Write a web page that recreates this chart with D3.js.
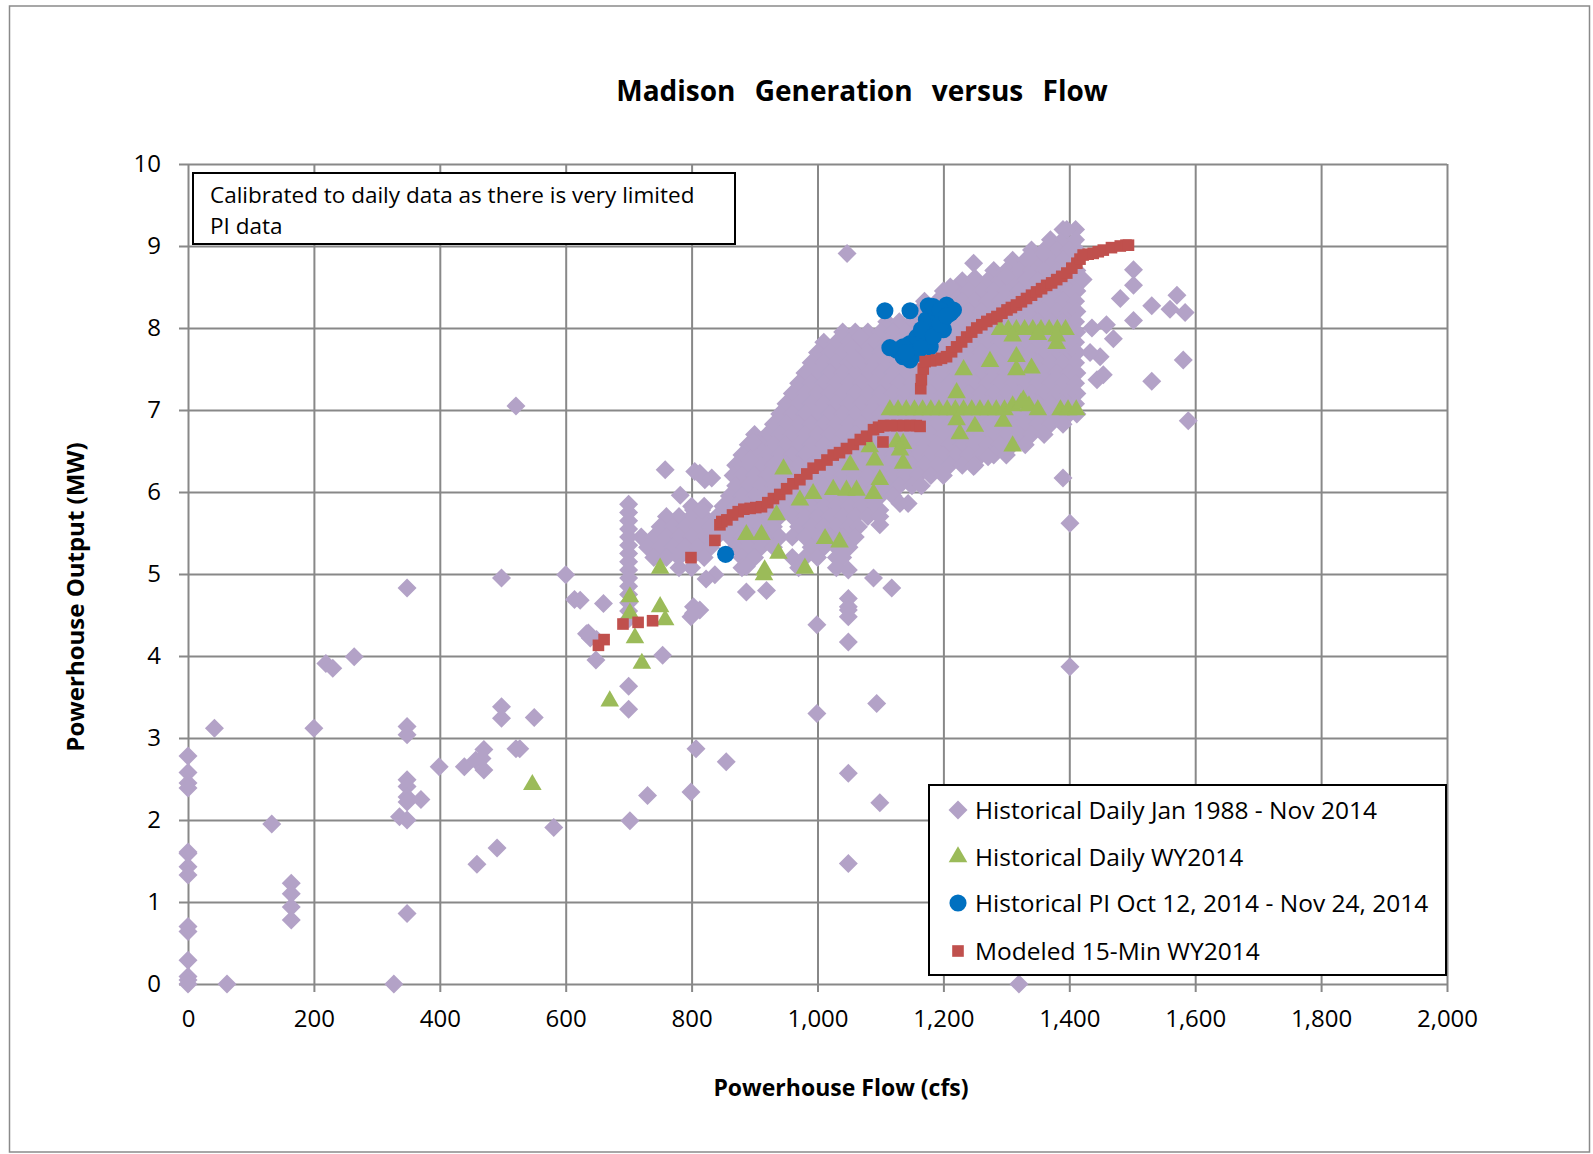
<!DOCTYPE html>
<html>
<head>
<meta charset="utf-8">
<title>Madison Generation versus Flow</title>
<script src="https://cdn.jsdelivr.net/npm/d3@7"></script>
<style>
  body { margin: 0; background: #fff; }
  text { font-family: "Open Sans", sans-serif; fill: #000; }
  .title { font-weight: bold; }
  .label { font-weight: bold; }
</style>
</head>
<body>
<svg id="chart" width="1593" height="1154"></svg>
<script>
// ---- data ----
var flowTicks = [0, 200, 400, 600, 800, 1000, 1200, 1400, 1600, 1800, 2000];
var outputTicks = [0, 1, 2, 3, 4, 5, 6, 7, 8, 9, 10];

var seriesNames = ['Historical Daily Jan 1988 - Nov 2014', 'Historical Daily WY2014',
                   'Historical PI Oct 12, 2014 - Nov 24, 2014', 'Modeled 15-Min WY2014'];
var seriesColors = ['#b3a2c7', '#9bbb59', '#0070c0', '#c0504d'];

// historical daily: scattered points [flow, MW]
var dailyScatter = [
  [0,2.78],[0,2.58],[0,2.45],[0,2.39],[0,1.61],[0,1.59],[0,1.43],[0,1.33],[0,0.70],[0,0.64],[0,0.29],[0,0.09],[0,0.05],[0,0],
  [42,3.12],[62,0],[133,1.95],[164,1.23],[164,1.10],[164,0.94],[164,0.78],[200,3.12],[219,3.91],[230,3.85],[264,3.99],
  [327,0],[348,4.83],[348,3.14],[348,3.04],[348,2.49],[348,2.41],[348,2.28],[348,2.22],[336,2.04],[348,2.0],[348,0.86],
  [370,2.25],[399,2.65],[439,2.65],[457,2.73],[470,2.86],[470,2.61],[467,2.75],[498,4.95],[498,3.38],[498,3.24],
  [459,1.46],[491,1.66],[521,2.87],[527,2.87],[550,3.25],[581,1.91],[600,4.99],[614,4.69],[636,4.28],[639,4.22],
  [648,3.95],[521,7.05],[633,4.27],[649,4.20],[623,4.68],[660,4.64],[700,3.63],[700,3.35],[754,4.01],[702,1.99],
  [730,2.30],[807,2.87],[799,2.34],[855,2.71],[1049,5.05],[1089,4.95],[1118,4.83],[999,4.38],[1049,4.70],[1049,4.60],
  [1049,4.56],[1049,4.48],[1049,4.17],[1401,3.87],[1094,3.42],[999,3.30],[1049,2.57],[1099,2.21],[1049,1.47],[1320,0],
  [1390,6.17],[1401,5.62],[887,4.78],[919,4.80],[803,4.52],[803,4.60],[813,4.56],[799,4.48],[837,4.99],[887,5.09],
  [823,4.94],[1099,5.60],[1099,5.78],[1099,5.70],[1131,5.86],[1144,5.86],[1248,6.31],[1271,6.43],[898,6.61],[893,6.39],
  [758,6.27],[805,6.25],[821,6.15],[813,6.23],[832,6.17],[782,5.96],[803,5.78],[816,5.78],[1047,8.91],[1068,7.89],
  [1055,7.75],[1060,7.62],
  [1396,9.2],[1422,8.59],[1444,7.37],[1454,7.43],[1449,7.65],[1459,8.04],[1470,7.87],[1481,8.36],[1502,8.71],[1502,8.52],
  [1502,8.09],[1531,8.27],[1531,7.35],[1560,8.23],[1571,8.40],[1584,8.19],[1581,7.61],[1589,6.87],[1436,8.0],[1433,7.7],
  [1248,8.79],[1250,8.61],[1300,8.63],[1338,8.87],[1359,8.91],[1211,8.50]
];

// historical daily: the stack of days at 700 cfs
var dailyAt700 = [4.45, 4.55, 4.65, 4.75, 4.85, 4.95, 5.05, 5.15, 5.25, 5.35, 5.45, 5.55, 5.65, 5.75, 5.85];

// historical daily: dense cloud, one row of flows per MW level
var dailyCloud = [
  [9.20, [1390, 1410]],
  [9.075, [1370, 1390, 1410]],
  [8.95, [1340, 1360, 1380, 1400, 1412]],
  [8.825, [1310, 1330, 1350, 1370, 1390, 1410]],
  [8.70, [1280, 1300, 1320, 1340, 1360, 1380, 1400, 1412]],
  [8.575, [1230, 1250, 1270, 1290, 1310, 1330, 1350, 1370, 1390, 1410]],
  [8.45, [1200, 1220, 1240, 1260, 1280, 1300, 1320, 1340, 1360, 1380, 1400, 1412]],
  [8.325, [1170, 1190, 1210, 1230, 1250, 1270, 1290, 1310, 1330, 1350, 1370, 1390, 1410]],
  [8.20, [1160, 1180, 1200, 1220, 1240, 1260, 1280, 1300, 1320, 1340, 1360, 1380, 1400, 1412]],
  [8.075, [1110, 1130, 1150, 1170, 1190, 1210, 1230, 1250, 1270, 1290, 1310, 1330, 1350, 1370, 1390, 1410]],
  [7.95, [1040, 1060, 1080, 1100, 1120, 1140, 1160, 1180, 1200, 1220, 1240, 1260, 1280, 1300, 1320, 1340, 1360, 1380, 1400, 1412]],
  [7.825, [1010, 1030, 1050, 1070, 1090, 1110, 1130, 1150, 1170, 1190, 1210, 1230, 1250, 1270, 1290, 1310, 1330, 1350, 1370, 1390, 1410]],
  [7.70, [1000, 1020, 1040, 1060, 1080, 1100, 1120, 1140, 1160, 1180, 1200, 1220, 1240, 1260, 1280, 1300, 1320, 1340, 1360, 1380, 1400, 1412]],
  [7.575, [990, 1010, 1030, 1050, 1070, 1090, 1110, 1130, 1150, 1170, 1190, 1210, 1230, 1250, 1270, 1290, 1310, 1330, 1350, 1370, 1390, 1410]],
  [7.45, [980, 1000, 1020, 1040, 1060, 1080, 1100, 1120, 1140, 1160, 1180, 1200, 1220, 1240, 1260, 1280, 1300, 1320, 1340, 1360, 1380, 1400, 1412]],
  [7.325, [970, 990, 1010, 1030, 1050, 1070, 1090, 1110, 1130, 1150, 1170, 1190, 1210, 1230, 1250, 1270, 1290, 1310, 1330, 1350, 1370, 1390, 1410]],
  [7.20, [960, 980, 1000, 1020, 1040, 1060, 1080, 1100, 1120, 1140, 1160, 1180, 1200, 1220, 1240, 1260, 1280, 1300, 1320, 1340, 1360, 1380, 1400, 1412]],
  [7.075, [950, 970, 990, 1010, 1030, 1050, 1070, 1090, 1110, 1130, 1150, 1170, 1190, 1210, 1230, 1250, 1270, 1290, 1310, 1330, 1350, 1370, 1390, 1410]],
  [6.95, [940, 960, 980, 1000, 1020, 1040, 1060, 1080, 1100, 1120, 1140, 1160, 1180, 1200, 1220, 1240, 1260, 1280, 1300, 1320, 1340, 1360, 1380, 1400, 1412]],
  [6.825, [930, 950, 970, 990, 1010, 1030, 1050, 1070, 1090, 1110, 1130, 1150, 1170, 1190, 1210, 1230, 1250, 1270, 1290, 1310, 1330, 1350, 1370, 1390]],
  [6.70, [900, 920, 940, 960, 980, 1000, 1020, 1040, 1060, 1080, 1100, 1120, 1140, 1160, 1180, 1200, 1220, 1240, 1260, 1280, 1300, 1320, 1340, 1360]],
  [6.575, [890, 910, 930, 950, 970, 990, 1010, 1030, 1050, 1070, 1090, 1110, 1130, 1150, 1170, 1190, 1210, 1230, 1250, 1270, 1290, 1310, 1330]],
  [6.45, [880, 900, 920, 940, 960, 980, 1000, 1020, 1040, 1060, 1080, 1100, 1120, 1140, 1160, 1180, 1200, 1220, 1240, 1260, 1280, 1300]],
  [6.325, [870, 890, 910, 930, 950, 970, 990, 1010, 1030, 1050, 1070, 1090, 1110, 1130, 1150, 1170, 1190, 1210, 1230, 1250]],
  [6.20, [866, 880, 900, 920, 940, 960, 980, 1000, 1020, 1040, 1060, 1080, 1100, 1120, 1140, 1160, 1180, 1200]],
  [6.075, [870, 890, 910, 930, 950, 970, 990, 1010, 1030, 1050, 1070, 1090, 1110, 1130, 1150, 1165]],
  [5.95, [860, 880, 900, 920, 940, 960, 980, 1000, 1020, 1040, 1060, 1080, 1100, 1120]],
  [5.825, [800, 820, 850, 870, 890, 910, 930, 950, 970, 990, 1010, 1030, 1050, 1070, 1090]],
  [5.70, [760, 780, 800, 820, 840, 860, 880, 900, 920, 940, 960, 980, 1000, 1020, 1040, 1060, 1080]],
  [5.575, [750, 770, 790, 810, 830, 850, 870, 890, 910, 930, 970, 990, 1010, 1030, 1050, 1065]],
  [5.45, [720, 740, 760, 780, 800, 820, 840, 860, 880, 900, 920, 940, 960, 980, 1000, 1020, 1040, 1060]],
  [5.325, [730, 750, 770, 790, 810, 830, 870, 890, 910, 930, 990, 1010, 1030, 1050]],
  [5.20, [740, 760, 780, 800, 820, 880, 900, 960, 980, 1000, 1030, 1040]],
  [5.075, [780, 800, 880, 970, 1030]]
];

var wy2014Daily = [
  [547,2.43],[670,3.45],[702,4.72],[702,4.52],[710,4.22],[721,3.91],[750,5.07],[750,4.60],[758,4.44],
  [887,5.48],[911,5.48],[916,5.05],[915,4.99],[938,5.25],[980,5.07],[1012,5.43],[1035,5.39],[935,5.72],[946,6.28],
  [972,5.90],[993,5.98],[1025,6.03],[1046,6.02],[1062,6.02],[1089,5.98],[1099,6.15],[1091,6.39],[1052,6.33],[1083,6.55],
  [1126,6.61],[1136,6.35],[1136,6.59],[1131,6.51],[1226,6.71],[1250,6.80],[1310,6.56],[1221,6.88],[1295,6.86],
  [1115,7.0],[1128,7.0],[1141,7.0],[1154,7.0],[1167,7.0],[1180,7.0],[1193,7.0],[1206,7.0],[1219,7.0],[1232,7.0],
  [1245,7.0],[1258,7.0],[1271,7.0],[1284,7.0],[1297,7.0],[1310,7.05],[1323,7.08],[1336,7.05],[1350,7.0],[1386,7.0],
  [1398,7.0],[1411,7.0],[1221,7.21],[1327,7.12],[1232,7.49],[1274,7.59],[1316,7.65],[1316,7.49],[1340,7.51],[1380,7.81],
  [1290,7.98],[1303,7.98],[1316,7.98],[1329,7.98],[1342,7.98],[1355,7.98],[1368,7.98],[1381,7.98],[1394,7.98],
  [1310,7.9],[1350,7.92],[1380,7.9]
];

var piOctNov = [
  [854,5.24],[1107,8.21],[1147,8.21],[1176,8.27],[1205,8.28],[1211,8.18],[1216,8.22],[1126,7.73],[1136,7.65],
  [1147,7.61],[1158,7.69],[1168,7.81],[1179,7.94],[1189,8.02],[1200,8.10],[1158,7.89],[1173,8.10],[1189,8.18],
  [1147,7.81],[1136,7.77],[1184,8.26],[1200,7.98],[1179,7.77],[1115,7.76],[1165,7.98],[1195,8.22],
  [1152,7.70],[1163,7.75],[1184,7.90],[1195,8.05],[1205,8.15],[1141,7.70]
];

var modeled15 = [
  [652,4.13],[661,4.2],[691,4.39],[715,4.41],[738,4.43],[799,5.2],[837,5.41],[845,5.6],[848,5.64],[856,5.66],
  [865,5.72],[874,5.76],[883,5.79],[893,5.80],[902,5.81],[911,5.82],[921,5.87],[930,5.92],[940,5.97],[951,6.04],
  [961,6.10],[972,6.15],[983,6.22],[993,6.29],[1004,6.33],[1015,6.39],[1025,6.45],[1035,6.48],[1046,6.53],[1057,6.58],
  [1068,6.64],[1078,6.68],[1089,6.76],[1097,6.79],[1105,6.81],[1116,6.81],[1126,6.81],[1137,6.81],[1147,6.81],
  [1157,6.81],[1163,6.80],[1104,6.61],
  [1164,7.26],[1165,7.37],[1168,7.50],[1171,7.59],[1180,7.60],[1189,7.61],[1197,7.63],[1205,7.65],[1213,7.71],
  [1221,7.77],[1229,7.83],[1237,7.89],[1245,7.95],[1253,8.00],[1261,8.04],[1269,8.08],[1277,8.11],[1285,8.14],
  [1293,8.18],[1301,8.22],[1308,8.25],[1316,8.28],[1324,8.32],[1332,8.36],[1340,8.40],[1348,8.44],[1356,8.48],
  [1364,8.52],[1372,8.55],[1380,8.59],[1388,8.63],[1396,8.67],[1404,8.73],[1412,8.79],[1417,8.84],[1422,8.89],
  [1430,8.90],[1438,8.91],[1446,8.93],[1454,8.95],[1467,8.98],[1481,9.0],[1490,9.01],[1494,9.01]
];

// ---- layout ----
var svg = d3.select('#chart');
var svgWidth = +svg.attr('width');
var svgHeight = +svg.attr('height');
var padding = {t: 164, r: 146, b: 170, l: 188};
var plotW = svgWidth - padding.l - padding.r;
var plotH = svgHeight - padding.t - padding.b;
var gridColor = '#888888';

svg.append('rect')
  .attr('x', 9.5).attr('y', 6)
  .attr('width', 1580).attr('height', 1146)
  .attr('fill', '#fff').attr('stroke', '#8a8a8a').attr('stroke-width', 1.5);

var chartG = svg.append('g')
  .attr('transform', 'translate(' + [padding.l, padding.t] + ')');

var xScale = d3.scaleLinear().domain([0, 2000]).range([0, plotW]);
var yScale = d3.scaleLinear().domain([0, 10]).range([plotH, 0]);

var xAxis = d3.axisBottom(xScale).tickValues(flowTicks)
  .tickFormat(d3.format(',')).tickSize(-plotH).tickPadding(26);
var yAxis = d3.axisLeft(yScale).tickValues(outputTicks)
  .tickFormat(d3.format('d')).tickSize(-plotW).tickPadding(27);

var xG = chartG.append('g').attr('class', 'xaxis')
  .attr('transform', 'translate(0,' + plotH + ')')
  .call(xAxis);
var yG = chartG.append('g').attr('class', 'yaxis')
  .call(yAxis);

[xG, yG].forEach(function(g) {
  g.select('.domain').remove();
  g.selectAll('.tick line').attr('stroke', gridColor).attr('stroke-width', 2);
  g.selectAll('.tick text').attr('font-size', 24).attr('font-family', '"Open Sans", sans-serif').attr('fill', '#000');
});
xG.selectAll('.tick line').attr('y1', 8);
yG.selectAll('.tick line').attr('x1', -9);

// ---- marks ----
var diamond = d3.symbol().type(d3.symbolDiamond2).size(230);
var triangle = d3.symbol().type(d3.symbolTriangle).size(150);
var circle = d3.symbol().type(d3.symbolCircle).size(230);
var square = d3.symbol().type(d3.symbolSquare).size(135);

var dailyPoints = [];
dailyCloud.forEach(function(row) {
  row[1].forEach(function(f) { dailyPoints.push([f, row[0]]); });
});
dailyAt700.forEach(function(mw) { dailyPoints.push([700, mw]); });
dailyPoints = dailyPoints.concat(dailyScatter);

function drawSeries(data, shape, color, cls) {
  chartG.append('g').attr('class', cls)
    .selectAll('path')
    .data(data)
    .join('path')
    .attr('d', shape)
    .attr('transform', function(d) { return 'translate(' + xScale(d[0]) + ',' + yScale(d[1]) + ')'; })
    .attr('fill', color);
}

drawSeries(dailyPoints, diamond, seriesColors[0], 'daily');
drawSeries(wy2014Daily, triangle, seriesColors[1], 'wy2014');
drawSeries(piOctNov, circle, seriesColors[2], 'pi');
drawSeries(modeled15, square, seriesColors[3], 'modeled');

// ---- note box ----
var noteG = svg.append('g');
noteG.append('rect')
  .attr('x', 193).attr('y', 173).attr('width', 542).attr('height', 71)
  .attr('fill', '#fff').attr('stroke', '#000').attr('stroke-width', 2);
noteG.append('text').attr('x', 210).attr('y', 203).attr('font-size', 22.5)
  .text('Calibrated to daily data as there is very limited');
noteG.append('text').attr('x', 210).attr('y', 234).attr('font-size', 22.5)
  .text('PI data');

// ---- legend ----
var legendG = svg.append('g');
legendG.append('rect')
  .attr('x', 929).attr('y', 785).attr('width', 517).attr('height', 190)
  .attr('fill', '#fff').attr('stroke', '#000').attr('stroke-width', 2);
var legendShapes = [diamond, triangle, circle, square];
var legendY = [810, 857, 903, 951];
seriesNames.forEach(function(name, i) {
  legendG.append('path')
    .attr('d', legendShapes[i])
    .attr('transform', 'translate(958,' + legendY[i] + ')')
    .attr('fill', seriesColors[i]);
  legendG.append('text')
    .attr('x', 975).attr('y', legendY[i]).attr('dy', '0.35em')
    .attr('font-size', 24.5)
    .text(name);
});

// ---- titles ----
svg.append('text').attr('class', 'title')
  .attr('x', 862).attr('y', 101).attr('text-anchor', 'middle')
  .attr('font-size', 28).attr('word-spacing', 12)
  .text('Madison Generation versus Flow');

svg.append('text').attr('class', 'label')
  .attr('x', 841).attr('y', 1096).attr('text-anchor', 'middle')
  .attr('font-size', 23)
  .text('Powerhouse Flow (cfs)');

svg.append('text').attr('class', 'label')
  .attr('transform', 'translate(84,597) rotate(-90)')
  .attr('text-anchor', 'middle')
  .attr('font-size', 24)
  .text('Powerhouse Output (MW)');
</script>
</body>
</html>
